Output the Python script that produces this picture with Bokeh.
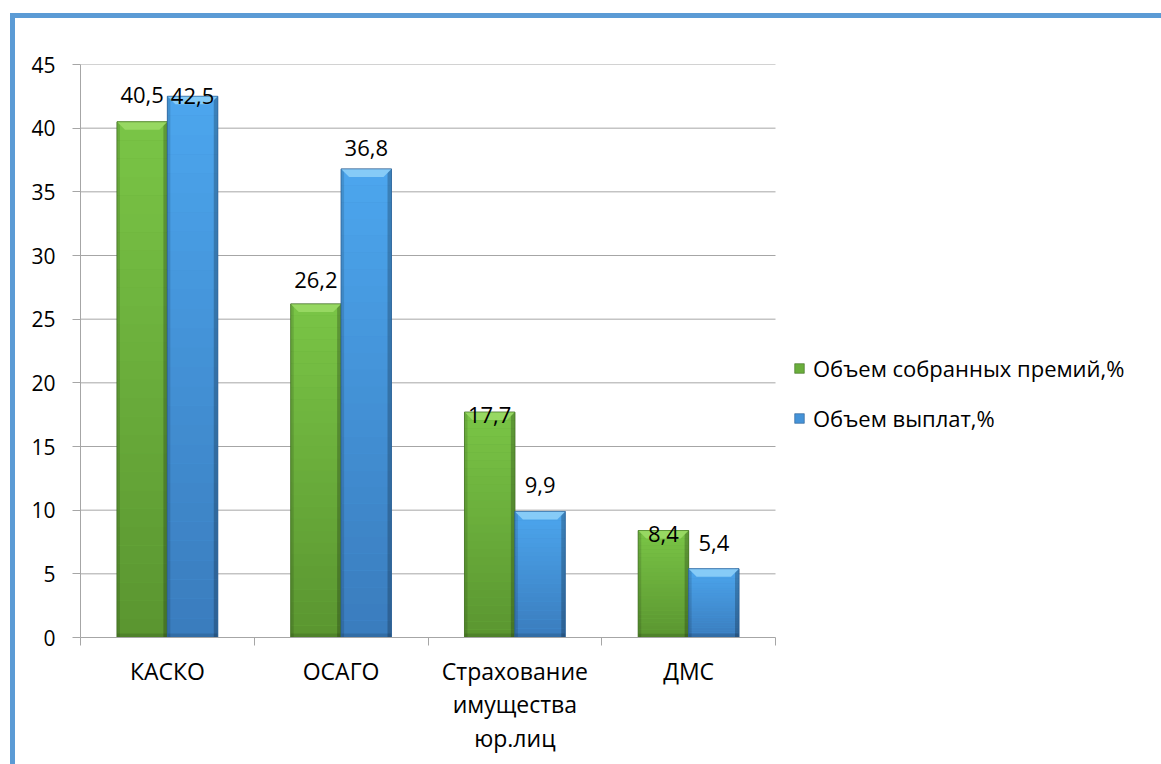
from bokeh.plotting import figure
from bokeh.models import (ColumnDataSource, FixedTicker, LabelSet, Legend, LegendItem, Range1d)
from bokeh.core.properties import value
from bokeh.embed import file_html
from bokeh.resources import INLINE

# ---- data -------------------------------------------------------------
categories = ["КАСКО", "ОСАГО", "Страхование\nимущества\nюр.лиц", "ДМС"]
premiums = [40.5, 26.2, 17.7, 8.4]
payouts = [42.5, 36.8, 9.9, 5.4]
series_names = ["Объем собранных премий,%", "Объем выплат,%"]
y_ticks = [0, 5, 10, 15, 20, 25, 30, 35, 40, 45]

# ---- layout / style ---------------------------------------------------
W, H = 1161, 764
FRAME_L, AXIS_R, FRAME_T, FRAME_B = 80, 775, 64, 637
Y_MAX = 45
N_CAT = len(categories)
PX_X = (AXIS_R - FRAME_L) / N_CAT           # pixels per x unit
PX_Y = (FRAME_B - FRAME_T) / Y_MAX          # pixels per y unit
X_END = (W - FRAME_L) / PX_X                # frame runs on under the legend
BAR_W = 0.29
OFFSET = 0.145

# vertical pixel lift of each value label above its bar top
premium_label_lift = [19, 16, -11, -11]
payout_label_lift = [-8, 13, 18, 18]

GREEN = dict(top="#7ac546", bottom="#5a9530", bevel="#97d862", base="#6aae3c", edge="#3f6e20")
BLUE = dict(top="#4ca6ee", bottom="#3a7cbd", bevel="#86cbf7", base="#4593d8", edge="#2a5d92")
GRID = "#a6a6a6"
FRAME_BLUE = "#5b9bd5"
FONT = "Open Sans"


def mix(c1, c2, t):
    a = [int(c1[i:i + 2], 16) for i in (1, 3, 5)]
    b = [int(c2[i:i + 2], 16) for i in (1, 3, 5)]
    return "#%02x%02x%02x" % tuple(round(a[k] + (b[k] - a[k]) * t) for k in range(3))


p = figure(width=W, height=H, output_backend="svg", toolbar_location=None,
           x_range=Range1d(0, X_END), y_range=Range1d(0, Y_MAX),
           min_border_left=FRAME_L, min_border_right=0,
           min_border_top=FRAME_T, min_border_bottom=H - FRAME_B)
p.outline_line_color = None
p.background_fill_color = "white"
p.border_fill_color = None
# white page with the blue frame lines (top and left edges) behind the canvas
p.styles = {
    "background-color": "white",
    "background-image": f"linear-gradient({FRAME_BLUE}, {FRAME_BLUE}), "
                        f"linear-gradient({FRAME_BLUE}, {FRAME_BLUE})",
    "background-position": "10px 13px, 10px 13px",
    "background-size": "2000px 5px, 5px 2000px",
    "background-repeat": "no-repeat",
}
p.xgrid.visible = False
p.ygrid.visible = False

# horizontal gridlines over the category span only
grid_y = [t for t in y_ticks if t > 0]
p.segment(x0=[0] * len(grid_y), x1=[N_CAT] * len(grid_y), y0=grid_y, y1=grid_y,
          line_color=GRID, line_width=1)


def draw_series(values, shift, col):
    centers = [i + 0.5 + shift for i in range(len(values))]
    half = BAR_W / 2
    # base bar (also used as legend glyph)
    base = p.vbar(x=centers, top=values, width=BAR_W, bottom=0,
                  fill_color=col["base"], line_color=col["edge"], line_alpha=0.6)
    # vertical gradient body
    n = 28
    ql, qr, qb, qt, qc = [], [], [], [], []
    for c, v in zip(centers, values):
        for k in range(n):
            ql.append(c - half)
            qr.append(c + half)
            qb.append(v * k / n)
            qt.append(v * (k + 1) / n)
            qc.append(mix(col["bottom"], col["top"], (k + 0.5) / n))
    p.quad(left=ql, right=qr, bottom=qb, top=qt, fill_color=qc, line_color=None)
    # side shading
    dl = 3 / PX_X
    dr = 4 / PX_X
    p.quad(left=[c - half for c in centers], right=[c - half + dl for c in centers],
           bottom=0, top=values, fill_color="black", fill_alpha=0.12, line_color=None)
    p.quad(left=[c + half - dr for c in centers], right=[c + half for c in centers],
           bottom=0, top=values, fill_color="black", fill_alpha=0.22, line_color=None)
    # bottom shading
    db = 4 / PX_Y
    p.quad(left=[c - half for c in centers], right=[c + half for c in centers],
           bottom=0, top=[db] * len(values), fill_color="black", fill_alpha=0.12,
           line_color=None)
    # top bevel face
    bx = 8 / PX_X
    by = 8 / PX_Y
    xs = [[c - half, c + half, c + half - bx, c - half + bx] for c in centers]
    ys = [[v, v, v - by, v - by] for v in values]
    p.patches(xs=xs, ys=ys, fill_color=col["bevel"], line_color=None)
    # outline
    p.vbar(x=centers, top=values, width=BAR_W, bottom=0, fill_color=None,
           line_color=col["edge"], line_alpha=0.55, line_width=1)
    return base, centers


g_base, g_centers = draw_series(premiums, -OFFSET, GREEN)
b_base, b_centers = draw_series(payouts, OFFSET, BLUE)

# value labels
lab_src = ColumnDataSource(dict(
    x=g_centers + b_centers,
    y=premiums + payouts,
    lift=premium_label_lift + payout_label_lift,
    text=[str(v).replace(".", ",") for v in premiums + payouts],
))
labels = LabelSet(x="x", y="y", y_offset="lift", text="text", source=lab_src,
                  text_align="center", text_baseline="alphabetic",
                  text_font=value(FONT), text_font_size=value("22px"),
                  text_color="black")
p.add_layout(labels)

# axes
xa = p.xaxis[0]
xa.bounds = (0, N_CAT)
xa.ticker = FixedTicker(ticks=[i + 0.5 for i in range(N_CAT)],
                        minor_ticks=list(range(N_CAT + 1)))
xa.major_label_overrides = {i + 0.5: name for i, name in enumerate(categories)}
xa.major_tick_out = 0
xa.major_tick_in = 0
xa.minor_tick_out = 8
xa.minor_tick_in = 0
xa.minor_tick_line_color = GRID
xa.axis_line_color = GRID
xa.major_label_text_font = FONT
xa.major_label_text_font_size = "23px"
xa.major_label_text_color = "black"
xa.major_label_text_line_height = 1.05
xa.major_label_standoff = 9

ya = p.yaxis[0]
ya.ticker = FixedTicker(ticks=y_ticks)
ya.major_tick_out = 8
ya.major_tick_in = 0
ya.minor_tick_line_color = None
ya.major_tick_line_color = GRID
ya.axis_line_color = GRID
ya.major_label_text_font = FONT
ya.major_label_text_font_size = "21px"
ya.major_label_text_color = "black"
ya.major_label_standoff = 17

# legend to the right of the bars
legend = Legend(items=[LegendItem(label=series_names[0], renderers=[g_base]),
                       LegendItem(label=series_names[1], renderers=[b_base])],
                location=(713, 204), orientation="vertical",
                glyph_width=12, glyph_height=12, label_height=30, spacing=20,
                label_standoff=8, padding=0, margin=0,
                border_line_color=None, background_fill_alpha=0,
                label_text_font=FONT, label_text_font_size="22px",
                label_text_color="black")
p.add_layout(legend, "center")

open("out.html", "w").write(file_html(p, INLINE))
